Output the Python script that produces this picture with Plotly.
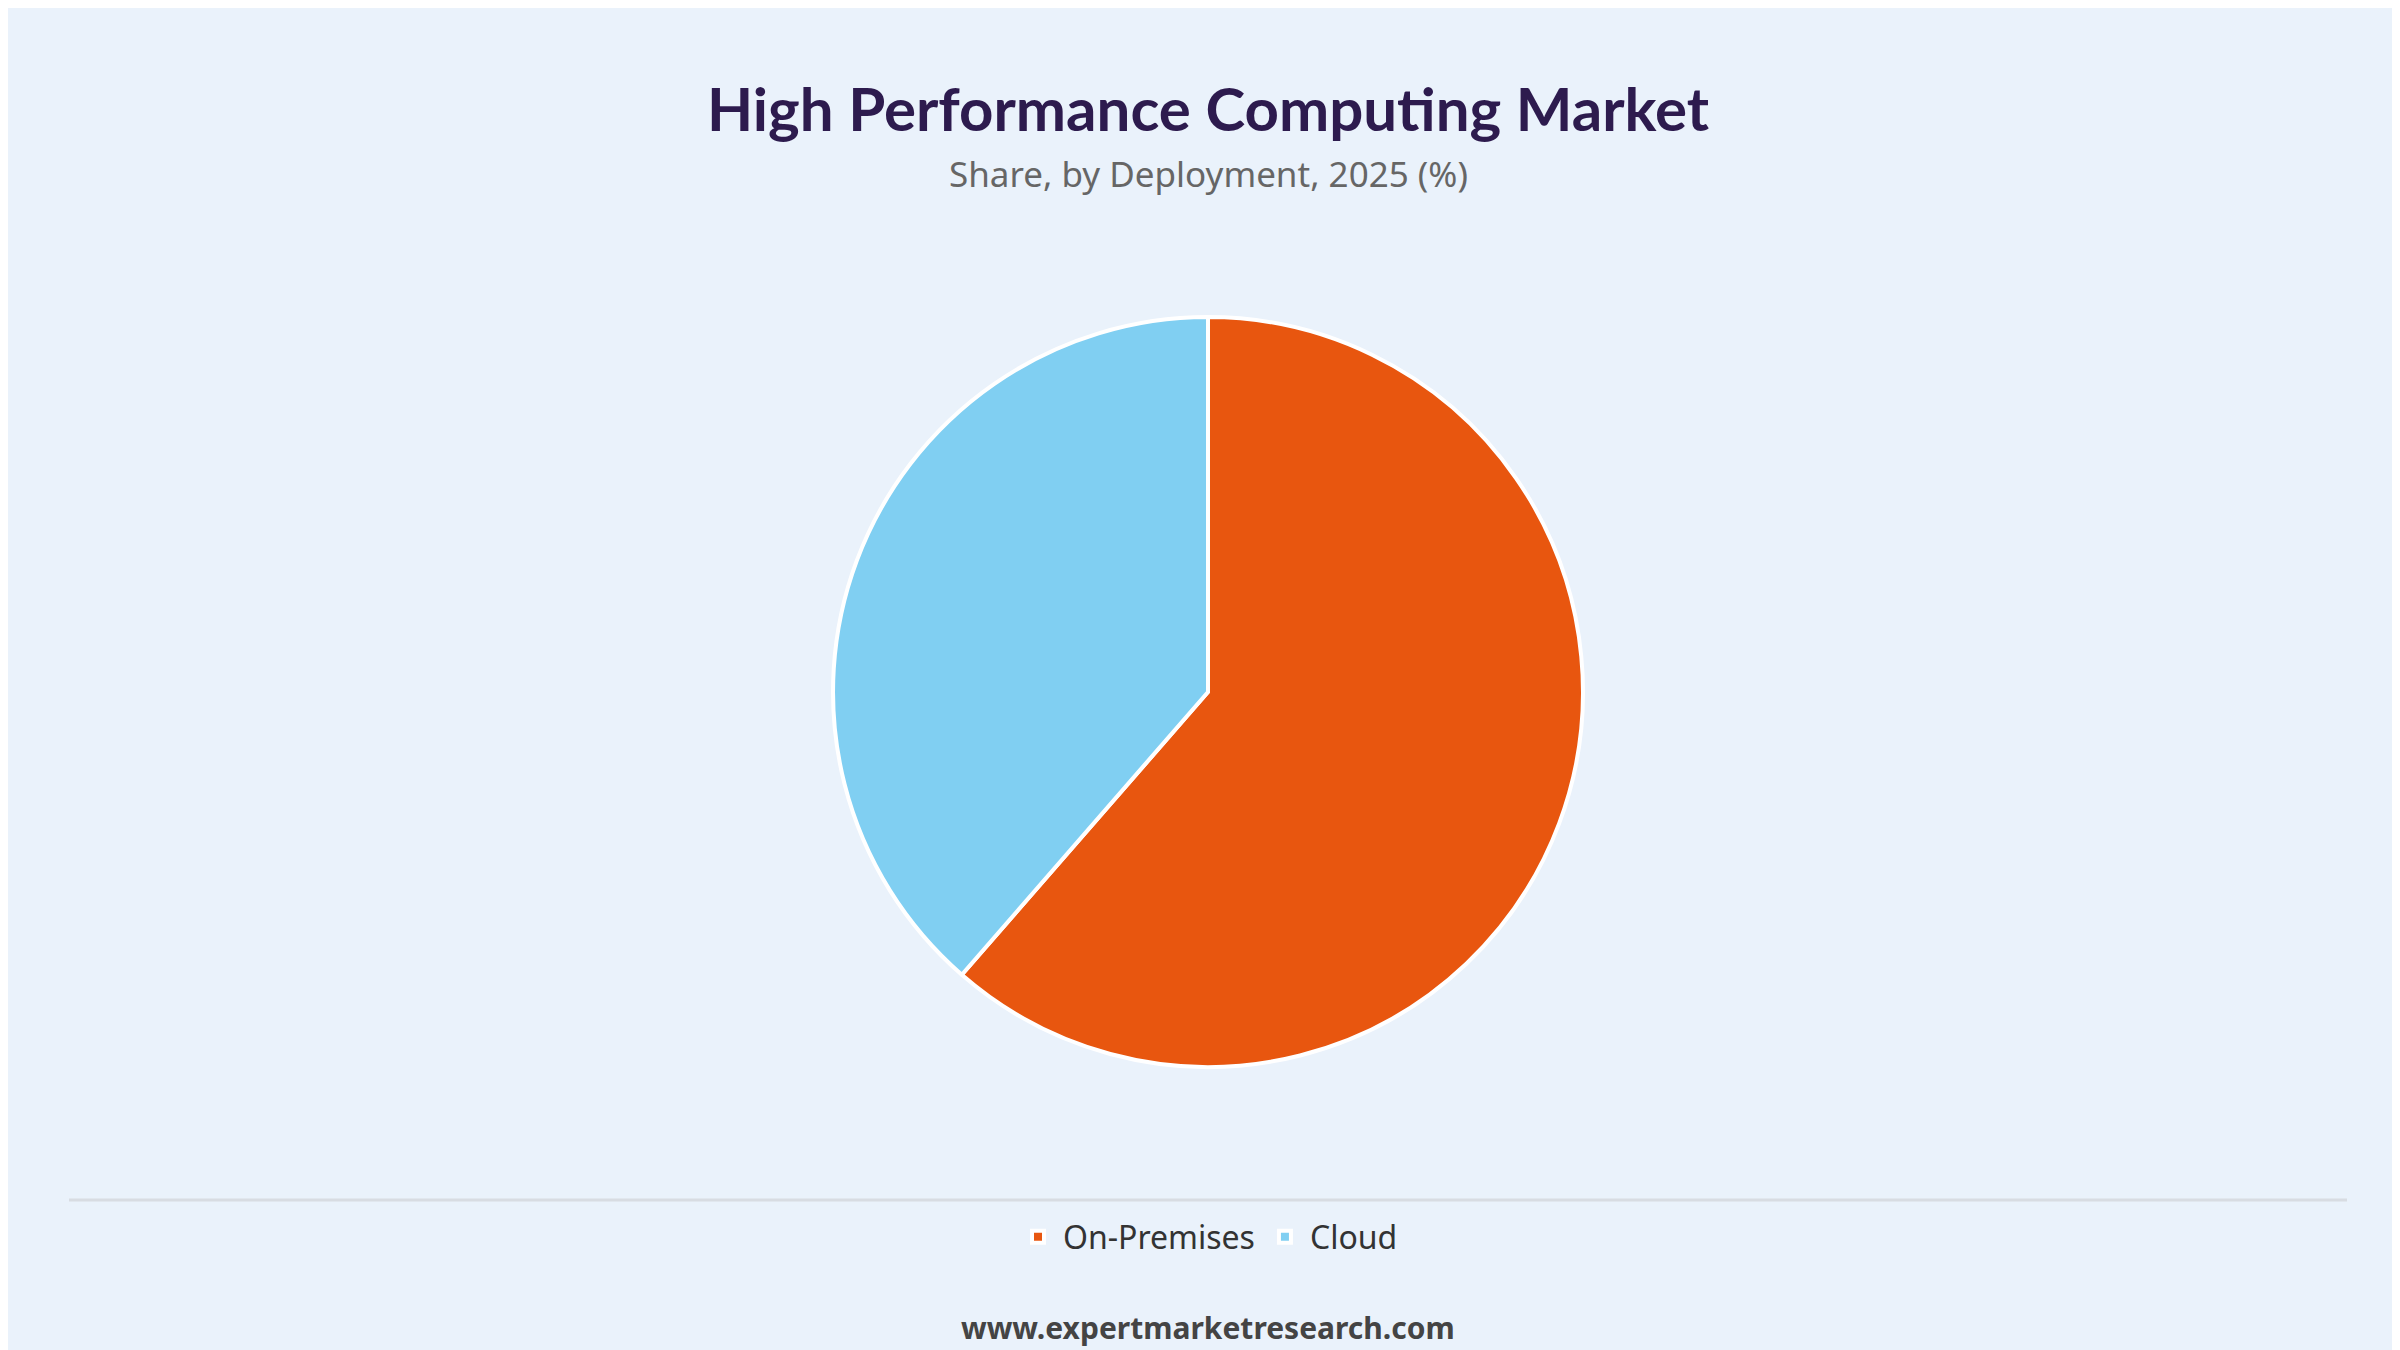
import plotly.graph_objects as go

labels = ["On-Premises", "Cloud"]
shares = [61.4, 38.6]
colors = ["#E8560F", "#80CFF2"]

fig = go.Figure()
fig.add_trace(go.Pie(
    labels=labels, values=shares, sort=False, direction="clockwise", rotation=0,
    marker=dict(colors=colors, line=dict(color="white", width=4)),
    textinfo="none", hoverinfo="label+percent",
    domain=dict(x=[0.3, 0.7], y=[0.2156, 0.7711]),
))

fig.update_layout(
    width=2400, height=1350,
    paper_bgcolor="#EAF2FB", plot_bgcolor="#EAF2FB",
    margin=dict(l=0, r=0, t=0, b=0),
    showlegend=True,
    legend=dict(orientation="h", x=0.5, xanchor="center", y=0.0896, yanchor="middle",
                font=dict(family="Noto Sans", size=32, color="#333333"),
                itemwidth=40, traceorder="normal"),
    annotations=[
        dict(text="<b>High Performance Computing Market</b>", x=0.5, y=1 - 100 / 1350,
             xref="paper", yref="paper", showarrow=False, yanchor="middle",
             font=dict(family="Lato", size=60, color="#2D1B4E", weight=900)),
        dict(text="Share, by Deployment, 2025 (%)", x=0.5, y=1 - 166 / 1350,
             xref="paper", yref="paper", showarrow=False, yanchor="middle",
             font=dict(family="Noto Sans", size=35, color="#666666")),
        dict(text="<b>www.expertmarketresearch.com</b>", x=0.5, y=1 - 1319 / 1350,
             xref="paper", yref="paper", showarrow=False, yanchor="middle",
             font=dict(family="Noto Sans", size=30, color="#444444")),
    ],
    shapes=[dict(type="line", xref="paper", yref="paper", x0=61 / 2400, x1=2339 / 2400,
                 y0=1 - 1192 / 1350, y1=1 - 1192 / 1350,
                 line=dict(color="#D8DCE2", width=3))],
)

fig.write_html("out.html")
